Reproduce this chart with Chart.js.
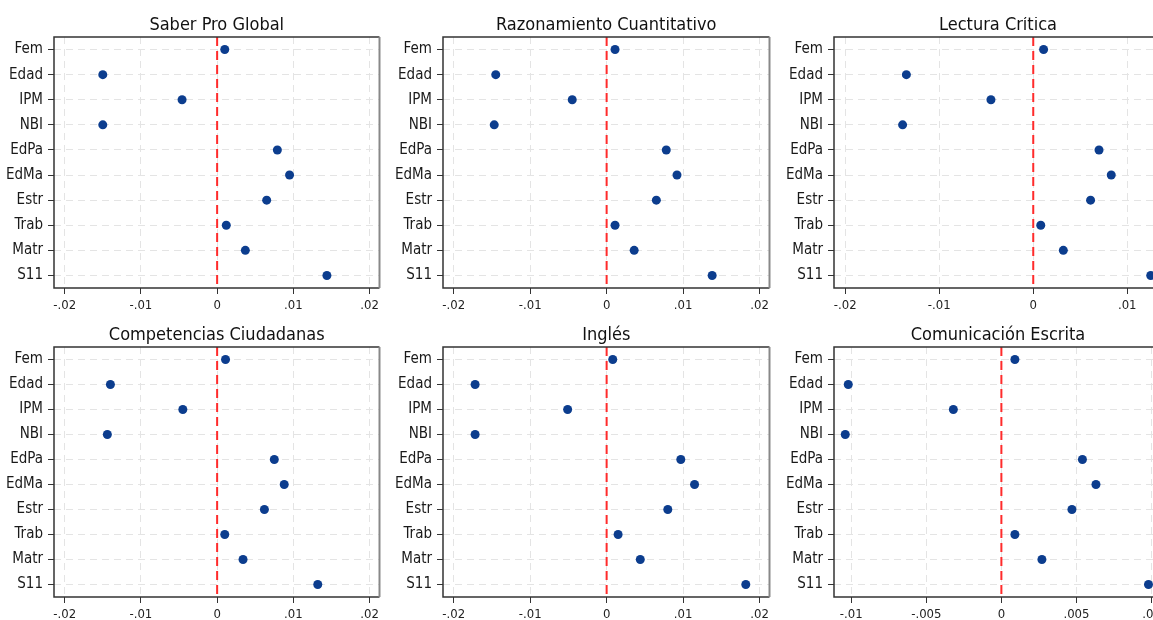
<!DOCTYPE html>
<html>
<head>
<meta charset="utf-8">
<script src="https://cdn.jsdelivr.net/npm/chart.js@4"></script>
<style>
  html, body { margin: 0; padding: 0; background: #fff; }
  #wrap { position: relative; width: 1153px; height: 620px; overflow: hidden; background: #fff; }
  #wrap canvas { position: absolute; }
</style>
</head>
<body>
<div id="wrap"></div>
<script>
const categories = ["Fem", "Edad", "IPM", "NBI", "EdPa", "EdMa", "Estr", "Trab", "Matr", "S11"];

const titles = [
  "Saber Pro Global",
  "Razonamiento Cuantitativo",
  "Lectura Crítica",
  "Competencias Ciudadanas",
  "Inglés",
  "Comunicación Escrita"
];

// coefficients per model, same order as categories
const saberPro     = [0.0010, -0.0150, -0.0046, -0.0150, 0.0079, 0.0095, 0.0065, 0.0012, 0.0037, 0.0144];
const razonamiento = [0.0011, -0.0145, -0.0045, -0.0147, 0.0078, 0.0092, 0.0065, 0.0011, 0.0036, 0.0138];
const lectura      = [0.0011, -0.0135, -0.0045, -0.0139, 0.0070, 0.0083, 0.0061, 0.0008, 0.0032, 0.0125];
const ciudadanas   = [0.0011, -0.0140, -0.0045, -0.0144, 0.0075, 0.0088, 0.0062, 0.0010, 0.0034, 0.0132];
const ingles       = [0.0008, -0.0172, -0.0051, -0.0172, 0.0097, 0.0115, 0.0080, 0.0015, 0.0044, 0.0182];
const escrita      = [0.0009, -0.0102, -0.0032, -0.0104, 0.0054, 0.0063, 0.0047, 0.0009, 0.0027, 0.0098];

const ticksWide    = [-0.02, -0.01, 0, 0.01, 0.02];
const ticksLectura = [-0.02, -0.01, 0, 0.01];
const ticksEscrita = [-0.01, -0.005, 0, 0.005, 0.01];

const series = [saberPro, razonamiento, lectura, ciudadanas, ingles, escrita];
const tickSets = [ticksWide, ticksWide, ticksLectura, ticksWide, ticksWide, ticksEscrita];
const ranges = [
  [-0.0214, 0.0213],
  [-0.0214, 0.0213],
  [-0.0212, 0.0137],
  [-0.0214, 0.0213],
  [-0.0214, 0.0213],
  [-0.01115, 0.0107]
];

const FONT = "'Liberation Sans Narrow', 'DejaVu Sans Condensed', 'Roboto', sans-serif";

// Stata style labels: -.02, .005, 0
function fmtTick(v) {
  if (Math.abs(v) < 1e-12) return "0";
  const s = String(Math.round(Math.abs(v) * 100000) / 100000).replace(/^0/, "");
  return (v < 0 ? "-" : "") + s;
}

const zeroLine = {
  id: "zeroLine",
  beforeDatasetsDraw(chart) {
    const { ctx, chartArea, scales } = chart;
    const x = scales.x.getPixelForValue(0);
    ctx.save();
    ctx.strokeStyle = "#ff2b2b";
    ctx.lineWidth = 2;
    ctx.setLineDash([9, 5]);
    ctx.beginPath();
    ctx.moveTo(x, chartArea.top);
    ctx.lineTo(x, chartArea.bottom);
    ctx.stroke();
    ctx.restore();
  }
};

const frame = {
  id: "frame",
  afterDraw(chart) {
    const { ctx, chartArea: a } = chart;
    ctx.save();
    ctx.lineWidth = 1.5;
    ctx.strokeStyle = "#333";
    ctx.beginPath();
    ctx.moveTo(a.right, a.top);
    ctx.lineTo(a.left, a.top);
    ctx.lineTo(a.left, a.bottom);
    ctx.lineTo(a.right, a.bottom);
    ctx.stroke();
    ctx.strokeStyle = "#888";
    ctx.lineWidth = 2;
    ctx.beginPath();
    ctx.moveTo(a.right, a.top);
    ctx.lineTo(a.right, a.bottom);
    ctx.stroke();
    ctx.restore();
  }
};

const panelTitle = {
  id: "panelTitle",
  afterDraw(chart, args, opts) {
    const { ctx, chartArea: a } = chart;
    ctx.save();
    ctx.font = "18px " + FONT;
    ctx.fillStyle = "#111";
    ctx.textAlign = "center";
    ctx.textBaseline = "alphabetic";
    ctx.fillText(opts.text, (a.left + a.right) / 2, a.top - 7);
    ctx.restore();
  }
};

const wrap = document.getElementById("wrap");
const colLeft = [0, 389, 780];
const colWidth = [384, 385, 390];
const padRight = [4, 4, 8];

series.forEach((values, i) => {
  const col = i % 3;
  const row = Math.floor(i / 3);
  const canvas = document.createElement("canvas");
  const top = row === 0 ? 17 : 310;
  const height = row === 0 ? 295 : 310;
  canvas.width = colWidth[col];
  canvas.height = height;
  canvas.style.left = colLeft[col] + "px";
  canvas.style.top = top + "px";
  wrap.appendChild(canvas);

  const padTop = row === 0 ? 20 : 37;
  const axisH = row === 0 ? 271 : 287;
  const tickVals = tickSets[i];

  new Chart(canvas.getContext("2d"), {
    type: "line",
    data: {
      labels: categories,
      datasets: [{
        data: values,
        showLine: false,
        pointRadius: 4.5,
        pointHoverRadius: 4.5,
        pointBackgroundColor: "#0c3d8e",
        pointBorderWidth: 0
      }]
    },
    options: {
      indexAxis: "y",
      responsive: false,
      animation: false,
      layout: { padding: { top: padTop, right: padRight[col], left: 0, bottom: 0 } },
      plugins: {
        legend: { display: false },
        tooltip: { enabled: false },
        title: { display: false },
        panelTitle: { text: titles[i] }
      },
      scales: {
        x: {
          type: "linear",
          min: ranges[i][0],
          max: ranges[i][1],
          afterBuildTicks: (s) => { s.ticks = tickVals.map((v) => ({ value: v })); },
          afterFit: (s) => { s.height = height - axisH; },
          ticks: {
            callback: (v) => fmtTick(v),
            color: "#222",
            font: { family: FONT, size: 13 },
            padding: 4,
            autoSkip: false,
            maxRotation: 0
          },
          grid: { color: "#e4e4e4", lineWidth: 1, tickColor: "#333", tickLength: 6, tickWidth: 1 },
          border: { display: false, dash: [7, 5] }
        },
        y: {
          type: "category",
          offset: true,
          afterFit: (s) => { s.width = 54; },
          ticks: {
            color: "#1a1a1a",
            font: { family: FONT, size: 15 },
            padding: 5,
            autoSkip: false
          },
          grid: { offset: false, color: "#e4e4e4", lineWidth: 1, tickColor: "#333", tickLength: 6, tickWidth: 1 },
          border: { display: false, dash: [7, 5] }
        }
      }
    },
    plugins: [zeroLine, frame, panelTitle]
  });
});
</script>
</body>
</html>
